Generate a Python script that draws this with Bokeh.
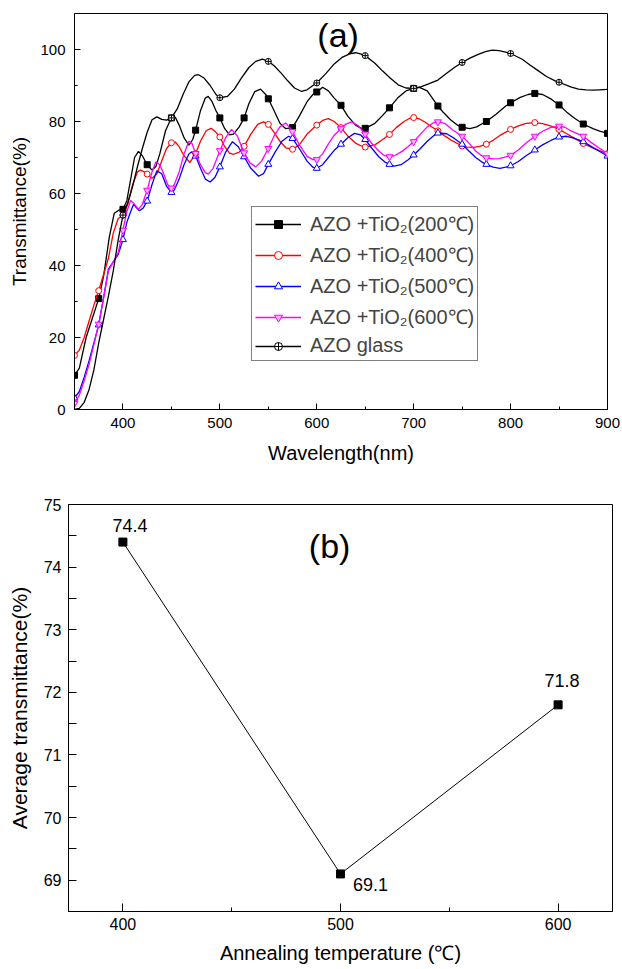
from bokeh.plotting import figure
from bokeh.models import Legend, LegendItem, Label, Range1d, FixedTicker
from bokeh.embed import file_html
from bokeh.resources import INLINE

# ---------------- data (a) ----------------
wl_200 = [350, 355, 362, 368, 375, 380, 386, 391, 396, 400, 404, 408, 412, 416, 420, 425, 430, 434, 438, 444,
          450, 454, 458, 463, 468, 472, 475, 480, 485, 488, 492, 496, 500, 505, 510, 514, 520, 525, 530, 536,
          542, 548, 550, 556, 562, 568, 575, 582, 590, 596, 600, 606, 612, 618, 625, 632, 640, 646, 650, 660,
          668, 675, 684, 692, 700, 706, 714, 720, 725, 730, 738, 745, 750, 758, 765, 770, 775, 785, 795, 800,
          810, 818, 825, 833, 842, 850, 858, 866, 875, 885, 892, 900]
t_200 = [9.5, 11.5, 20, 25, 30.8, 37, 48, 54.5, 55.4, 55.6, 58, 64, 70, 71.7, 70.5, 68, 66.5, 67.5, 71, 77.5,
         81, 81.2, 79, 75.5, 73.4, 75, 77.6, 83, 86.5, 87, 85.5, 83, 81, 78, 76.3, 76.5, 78.5, 81, 85, 88.3,
         89, 87.3, 86.3, 83, 79.5, 78, 78.3, 81.5, 85.5, 87.5, 88.2, 89.5, 88.5, 86.5, 84.5, 81.5, 79, 78.1, 78.1, 79.5,
         81.7, 83.8, 86.7, 88.5, 89.2, 89.5, 88.5, 86.2, 84.3, 82.7, 80.5, 79, 78.4, 78, 78.5, 79.3, 80.0, 82, 84.3, 85.2,
         86.7, 87.5, 87.8, 87.5, 86.2, 84.6, 82.6, 80.9, 79.3, 78, 77.3, 76.7]

wl_400 = [350, 355, 360, 365, 370, 375, 380, 385, 390, 395, 400, 405, 410, 415, 418, 422, 425, 430, 435, 440,
          445, 450, 454, 458, 463, 469, 475, 480, 486, 491, 496, 500, 505, 510, 514, 520, 525, 532, 539, 545,
          550, 556, 562, 568, 575, 582, 590, 600, 606, 612, 618, 625, 632, 640, 646, 650, 660, 668, 675, 682,
          690, 696, 700, 706, 712, 718, 725, 732, 740, 750, 755, 762, 768, 775, 782, 790, 800, 808, 816, 825,
          833, 842, 850, 858, 866, 875, 883, 891, 900]
t_400 = [15, 16.5, 20, 24.5, 29, 33, 37.5, 42, 49, 53, 54, 57, 62.5, 66, 66.5, 66, 65.4, 64.2, 65.5, 69,
         72.5, 74.1, 74.3, 73, 70.5, 68.6, 71.1, 74.5, 77.5, 78.1, 77, 75.7, 73, 71.2, 70.9, 71.5, 73.1, 76.5, 79.2, 79.9,
         79.2, 77, 74.5, 72.7, 72.3, 73.5, 76.5, 79, 80.3, 80.8, 80, 78.3, 76, 74, 73.2, 72.9, 73.5, 75, 76.4, 78.3,
         80, 80.9, 81.1, 80.7, 79.8, 78.6, 77.4, 76, 74.6, 73.2, 72.9, 72.8, 73.1, 73.7, 74.8, 76.3, 77.8, 78.8, 79.5, 79.7,
         79.4, 78.7, 77.8, 76.6, 75.3, 73.9, 72.9, 72, 71.1]

wl_500 = [350, 355, 360, 365, 370, 375, 380, 385, 390, 395, 400, 404, 408, 411, 414, 417, 421, 425, 430, 435,
          440, 445, 450, 453, 458, 463, 468, 471, 475, 480, 485, 490, 495, 500, 506, 513, 519, 525, 532, 540,
          545, 550, 557, 564, 571, 575, 582, 590, 596, 600, 606, 612, 618, 625, 632, 639, 645, 650, 657, 664,
          670, 675, 680, 687, 694, 700, 707, 714, 720, 725, 734, 742, 750, 757, 764, 770, 775, 782, 789, 795,
          800, 808, 816, 825, 833, 842, 850, 858, 866, 875, 883, 891, 900]
t_500 = [3.2, 5, 9, 13.5, 18.5, 23.5, 31, 39, 41, 43, 47.2, 52, 55, 57, 56, 55.2, 56, 57.9, 62.5, 66.3,
         65.5, 62, 60.3, 61, 64, 68, 71, 71.6, 70.4, 67, 64, 63.2, 64.5, 67.4, 71.5, 74.4, 73, 70.2, 67, 64.8,
         65.5, 68.1, 71.5, 74.5, 75.9, 75.3, 72.5, 69, 67.3, 67, 68, 70, 72, 73.7, 75.5, 76.7, 76.3, 75, 72.5, 70.2,
         68.8, 68.1, 67.6, 68, 69.3, 70.7, 72.5, 74.5, 75.9, 76.8, 76.6, 75.3, 73.7, 71.8, 70, 68.8, 68.1, 67.3, 67, 67.3,
         67.7, 68.9, 70.5, 72.1, 73.5, 74.8, 75.7, 75.9, 75.3, 74.4, 73.1, 71.8, 70.4]

wl_600 = [350, 355, 360, 365, 370, 375, 380, 385, 390, 395, 400, 404, 408, 412, 416, 420, 425, 430, 434, 438,
          442, 446, 450, 453, 458, 463, 468, 471, 475, 480, 485, 488, 493, 500, 506, 512, 518, 525, 531, 537,
          543, 550, 556, 562, 568, 575, 582, 590, 596, 600, 606, 612, 618, 625, 630, 636, 643, 650, 657, 664,
          670, 675, 680, 688, 694, 700, 707, 714, 720, 725, 732, 740, 750, 757, 764, 770, 775, 782, 788, 795,
          800, 808, 816, 825, 833, 841, 850, 856, 863, 870, 875, 883, 891, 900]
t_600 = [1.7, 4, 8, 12.5, 18, 23.7, 31, 38.5, 41, 43.5, 49.8, 55, 58.1, 57, 55.6, 57, 60.9, 66, 68.8, 68,
         65.5, 62.5, 61.5, 62.5, 66, 71, 74.5, 74, 71.1, 68, 65.8, 65.4, 67, 71.9, 75.5, 77.8, 76, 71.3, 68.5, 67.4,
         69, 72.5, 76, 78.5, 79.6, 77.2, 73.5, 70.3, 69.4, 69.4, 71, 73.8, 76.2, 78, 79.3, 79.9, 78.8, 76.5, 73.8, 71.8,
         70.5, 70.2, 70.5, 71.7, 73, 74.4, 76.5, 78.5, 79.6, 79.9, 79.5, 77.7, 75.9, 74, 71.8, 70.5, 69.9, 69.6, 69.7, 70.2,
         70.6, 72.1, 74, 75.9, 77.3, 78.3, 78.7, 78.4, 77.3, 76.5, 75.9, 74.2, 72.7, 71.1]

wl_glass = [350, 355, 360, 365, 370, 375, 380, 385, 390, 395, 400, 405, 410, 415, 420, 425, 430, 435, 440, 445,
            450, 456, 462, 468, 474, 478, 484, 490, 496, 500, 508, 515, 522, 530, 537, 544, 550, 556, 563, 570,
            577, 584, 590, 596, 600, 610, 618, 626, 634, 640, 645, 650, 660, 668, 676, 684, 692, 700, 708, 716,
            725, 733, 742, 750, 758, 766, 774, 781, 788, 796, 800, 812, 820, 828, 837, 846, 850, 862, 870, 878,
            885, 892, 900]
t_glass = [0, 0.3, 2, 5.5, 11, 18.5, 25, 31.5, 38.5, 47, 54, 57.5, 62, 67.5, 72.5, 77, 80.5, 81.3, 80.6, 80.4,
           81, 83.5, 87.5, 91, 92.8, 93, 92, 90, 87.5, 86.6, 87, 89, 92, 95, 96.7, 97.3, 96.7, 95.5, 93.5, 91.3,
           89.3, 88.4, 88.8, 90, 90.7, 93.5, 96, 97.8, 98.8, 99.1, 98.8, 98.3, 96.2, 94, 92, 90.2, 89.3, 89.2, 89.7, 90.5,
           91.5, 93.2, 95, 96.4, 97.6, 98.6, 99.4, 99.8, 99.7, 99.2, 98.9, 97.3, 95.7, 94.2, 92.5, 91.3, 90.9, 89.6, 89, 88.8,
           88.7, 88.8, 88.9]

labels_a = ["AZO +TiO\u2082(200\u2103)", "AZO +TiO\u2082(400\u2103)", "AZO +TiO\u2082(500\u2103)",
            "AZO +TiO\u2082(600\u2103)", "AZO glass"]

# ---------------- data (b) ----------------
temps = [400, 500, 600]
avg_t = [74.4, 69.1, 71.8]

FONT = "Liberation Sans"


def style_axes(p, tick_size, label_size):
    for ax in (p.xaxis[0], p.yaxis[0]):
        ax.major_tick_in = 6
        ax.major_tick_out = 0
        ax.minor_tick_in = 3
        ax.minor_tick_out = 0
        ax.axis_line_color = "black"
        ax.major_tick_line_color = "black"
        ax.minor_tick_line_color = "black"
        ax.major_label_text_font = FONT
        ax.major_label_text_font_size = tick_size
        ax.major_label_text_color = "black"
        ax.axis_label_text_font = FONT
        ax.axis_label_text_font_size = label_size
        ax.axis_label_text_font_style = "normal"
        ax.axis_label_text_color = "black"
    p.grid.visible = False
    p.outline_line_color = "black"
    p.outline_line_alpha = 1.0
    p.outline_line_width = 1


# ---------------- figure (a) ----------------
p1 = figure(width=622, height=480, x_range=Range1d(350, 900), y_range=Range1d(0, 110),
            output_backend="svg", toolbar_location=None,
            min_border_left=74, min_border_right=15, min_border_top=13, min_border_bottom=71,
            x_axis_label="Wavelength(nm)", y_axis_label="Transmittance(%)")
p1.xaxis.ticker = FixedTicker(ticks=[400, 500, 600, 700, 800, 900],
                              minor_ticks=[350, 450, 550, 650, 750, 850])
p1.yaxis.ticker = FixedTicker(ticks=[0, 20, 40, 60, 80, 100],
                              minor_ticks=[10, 30, 50, 70, 90])
style_axes(p1, "15px", "19px")
p1.xaxis.axis_label_text_font_size = "20px"
p1.xaxis.major_label_standoff = 8
p1.xaxis.axis_label_standoff = 11
p1.yaxis.major_label_standoff = 9
p1.yaxis.axis_label_standoff = 7

series = [
    (wl_200, t_200, "black", "square", "black", 6, 25),
    (wl_400, t_400, "red", "circle", "white", 6, 25),
    (wl_500, t_500, "blue", "triangle", "white", 7, 25),
    (wl_600, t_600, "magenta", "inverted_triangle", "#ffb0ff", 7, 25),
    (wl_glass, t_glass, "black", "circle_cross", "white", 6, 50),
]
items = []
for (wl, tv, col, mk, fill, sz, step), lab in zip(series, labels_a):
    r_line = p1.line(wl, tv, line_color=col, line_width=1.3)
    mx = [w for w in wl if w % step == 0 and (step == 25 or 400 <= w <= 850)]
    my = [t for w, t in zip(wl, tv) if w in mx]
    r_mk = p1.scatter(mx, my, marker=mk, size=sz, line_color=col, fill_color=fill, line_width=1)
    items.append(LegendItem(label=lab, renderers=[r_line, r_mk]))

legend = Legend(items=items, location=(177, 48), glyph_width=46, glyph_height=20,
                spacing=4, padding=3, margin=0, label_standoff=9,
                label_text_font=FONT, label_text_font_size="20px",
                border_line_color="black", border_line_width=1, background_fill_alpha=1)
p1.add_layout(legend)

p1.add_layout(Label(x=622, y=104, text="(a)", text_align="center", text_baseline="middle",
                    text_font=FONT, text_font_size="34px", text_color="black"))

# ---------------- figure (b) ----------------
p2 = figure(width=622, height=489, x_range=Range1d(375, 625), y_range=Range1d(68.5, 75),
            output_backend="svg", toolbar_location=None,
            min_border_left=68, min_border_right=10, min_border_top=24, min_border_bottom=58,
            x_axis_label="Annealing temperature (\u2103)", y_axis_label="Average transmittance(%)")
p2.xaxis.ticker = FixedTicker(ticks=[400, 500, 600], minor_ticks=[450, 550])
p2.yaxis.ticker = FixedTicker(ticks=[69, 70, 71, 72, 73, 74, 75],
                              minor_ticks=[68.5, 69.5, 70.5, 71.5, 72.5, 73.5, 74.5])
style_axes(p2, "16px", "20px")
p2.yaxis.axis_label_text_font_size = "21px"
p2.xaxis.major_tick_in = 8
p2.yaxis.major_tick_in = 8
p2.xaxis.minor_tick_in = 4
p2.yaxis.minor_tick_in = 8
p2.xaxis.major_label_standoff = 6
p2.xaxis.axis_label_standoff = 9
p2.yaxis.major_label_standoff = 7
p2.yaxis.axis_label_standoff = 10

p2.line(temps, avg_t, line_color="black", line_width=1)
p2.scatter(temps, avg_t, marker="square", size=8, color="black")

offsets = [(7, 17), (30, -11), (4, 24)]
for t, v, (dx, dy) in zip(temps, avg_t, offsets):
    p2.add_layout(Label(x=t, y=v, text=f"{v:.1f}", x_offset=dx, y_offset=dy,
                        text_align="center", text_baseline="middle",
                        text_font=FONT, text_font_size="18px", text_color="black"))

p2.add_layout(Label(x=495, y=74.34, text="(b)", text_align="center", text_baseline="middle",
                    text_font=FONT, text_font_size="34px", text_color="black"))

open("out.html", "w").write(file_html([p1, p2], INLINE))
